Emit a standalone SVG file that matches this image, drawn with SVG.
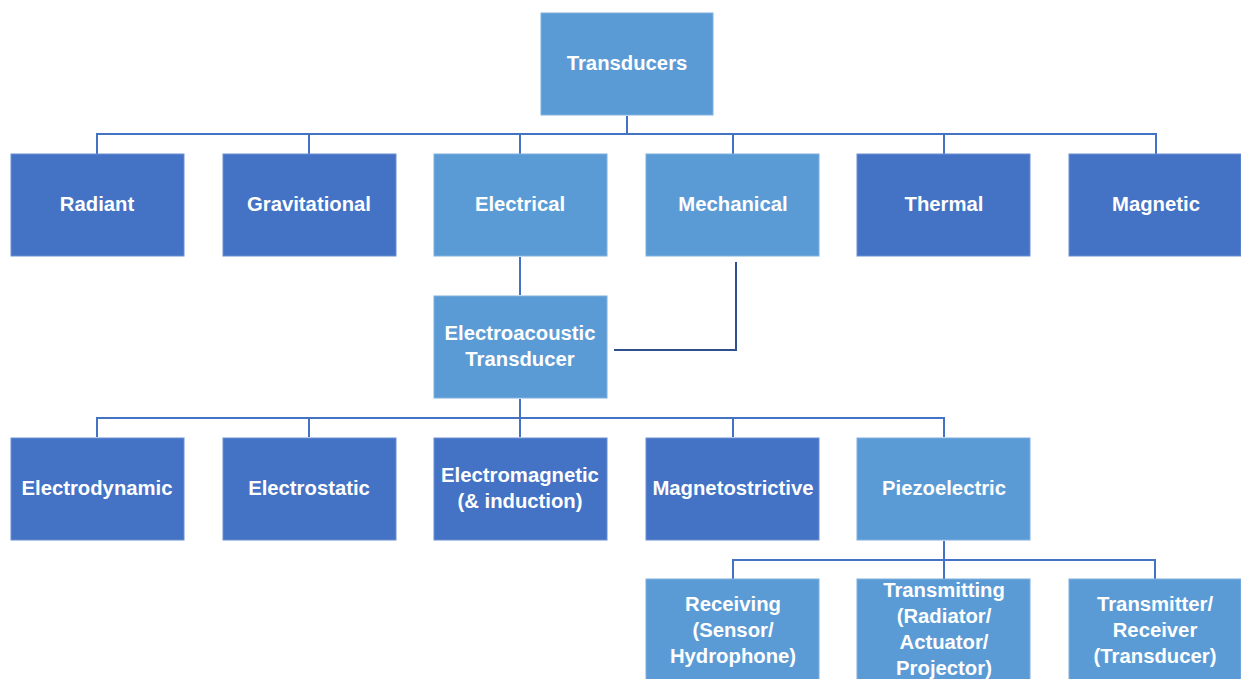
<svg xmlns="http://www.w3.org/2000/svg" width="1241" height="679" viewBox="0 0 1241 679">
<style>
.l{fill:#5B9BD5;stroke:#7FB0E0;stroke-width:1}
.d{fill:#4472C4;stroke:#6A8FD3;stroke-width:1}
text{font-family:"Liberation Sans",Arial,sans-serif;font-weight:bold;font-size:20.3px;fill:#fff;text-anchor:middle;dominant-baseline:central}
.c{fill:none;stroke:#4472C4;stroke-width:2}
.k{fill:none;stroke:#2F4F8F;stroke-width:2}
</style>
<rect width="1241" height="679" fill="#fff"/>
<g id="connectors">
<path class="c" d="M627 116V134M97 154V134H1156V154M309 134V154M520 134V154M733 134V154M944 134V154"/>
<path class="c" d="M520 257V295"/>
<path class="k" d="M736 262V350H614"/>
<path class="c" d="M520 399V437M97 437V418H944V437M309 418V437M733 418V437"/>
<path class="c" d="M944 541V579M733 579V560H1155V579"/>
</g>
<g id="n-transducers"><rect class="l" x="541" y="13" width="172" height="102"/><text x="627" y="63">Transducers</text></g>
<g id="n-radiant"><rect class="d" x="11" y="154" width="173" height="102"/><text x="97" y="204">Radiant</text></g>
<g id="n-gravitational"><rect class="d" x="223" y="154" width="173" height="102"/><text x="309" y="204">Gravitational</text></g>
<g id="n-electrical"><rect class="l" x="434" y="154" width="173" height="102"/><text x="520" y="204">Electrical</text></g>
<g id="n-mechanical"><rect class="l" x="646" y="154" width="173" height="102"/><text x="733" y="204">Mechanical</text></g>
<g id="n-thermal"><rect class="d" x="857" y="154" width="173" height="102"/><text x="944" y="204">Thermal</text></g>
<g id="n-magnetic"><rect class="d" x="1069" y="154" width="172" height="102"/><text x="1156" y="204">Magnetic</text></g>
<g id="n-electroacoustic"><rect class="l" x="434" y="296" width="173" height="102"/><text x="520" y="333">Electroacoustic</text><text x="520" y="359">Transducer</text></g>
<g id="n-electrodynamic"><rect class="d" x="11" y="438" width="173" height="102"/><text x="97" y="488">Electrodynamic</text></g>
<g id="n-electrostatic"><rect class="d" x="223" y="438" width="173" height="102"/><text x="309" y="488">Electrostatic</text></g>
<g id="n-electromagnetic"><rect class="d" x="434" y="438" width="173" height="102"/><text x="520" y="475">Electromagnetic</text><text x="520" y="501">(&amp; induction)</text></g>
<g id="n-magnetostrictive"><rect class="d" x="646" y="438" width="173" height="102"/><text x="733" y="488">Magnetostrictive</text></g>
<g id="n-piezoelectric"><rect class="l" x="857" y="438" width="173" height="102"/><text x="944" y="488">Piezoelectric</text></g>
<g id="n-receiving"><rect class="l" x="646" y="579" width="173" height="104"/><text x="733" y="604">Receiving</text><text x="733" y="630">(Sensor/</text><text x="733" y="656">Hydrophone)</text></g>
<g id="n-transmitting"><rect class="l" x="857" y="579" width="173" height="104"/><text x="944" y="590">Transmitting</text><text x="944" y="616">(Radiator/</text><text x="944" y="642">Actuator/</text><text x="944" y="668">Projector)</text></g>
<g id="n-transceiver"><rect class="l" x="1069" y="579" width="172" height="104"/><text x="1155" y="604">Transmitter/</text><text x="1155" y="630">Receiver</text><text x="1155" y="656">(Transducer)</text></g>
</svg>
